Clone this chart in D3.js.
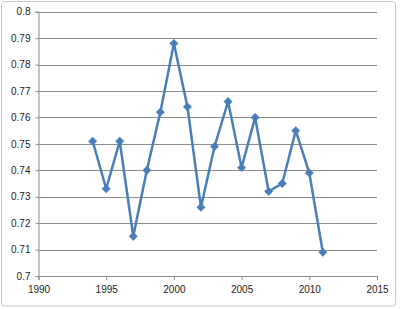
<!DOCTYPE html>
<html lang="en">
<head>
<meta charset="utf-8">
<script src="https://cdn.jsdelivr.net/npm/d3@7"></script>
<style>
    body { margin: 0; background: #fff; }
    svg { display: block; }
    .tick text { font-family: "Liberation Sans", Arial, sans-serif; font-size: 10px; fill: #222; }
</style>
</head>
<body>
<div id="container"></div>
<script>
    // values
    var years = [1994, 1995, 1996, 1997, 1998, 1999, 2000, 2001, 2002,
                 2003, 2004, 2005, 2006, 2007, 2008, 2009, 2010, 2011];
    var values = [0.751, 0.733, 0.751, 0.715, 0.740, 0.762, 0.788, 0.764, 0.726,
                  0.749, 0.766, 0.741, 0.760, 0.732, 0.735, 0.755, 0.739, 0.709];
    var xTicks = [1990, 1995, 2000, 2005, 2010, 2015];
    var yTicks = [0.7, 0.71, 0.72, 0.73, 0.74, 0.75, 0.76, 0.77, 0.78, 0.79, 0.8];

    var width = 400, height = 309;
    var plotLeft = 38.5, plotRight = 377, plotTop = 11.7, plotBottom = 276;

    var svg = d3.select("#container").append("svg")
        .attr("width", width)
        .attr("height", height);

    // outer chart border
    svg.append("rect")
        .attr("x", 1.5).attr("y", 1.5)
        .attr("width", 394).attr("height", 304.5)
        .attr("rx", 3)
        .style("fill", "white")
        .style("stroke", "#c8c8c8")
        .style("stroke-width", 1);

    var x = d3.scaleLinear().domain([1990, 2015]).range([plotLeft, plotRight]);
    var y = d3.scaleLinear().domain([0.7, 0.8]).range([plotBottom, plotTop]);

    // gridlines
    svg.append("g")
        .selectAll("line")
        .data(yTicks.slice(1))
        .enter().append("line")
        .attr("x1", plotLeft).attr("x2", plotRight)
        .attr("y1", function(d) { return Math.round(y(d)) + 0.5; })
        .attr("y2", function(d) { return Math.round(y(d)) + 0.5; })
        .style("stroke", "#8c8c8c")
        .style("stroke-width", 1);

    // y axis
    var yAxis = svg.append("g")
        .attr("transform", "translate(" + plotLeft + ",0)")
        .call(d3.axisLeft(y).tickValues(yTicks).tickSize(3).tickPadding(5)
            .tickFormat(function(d) { return String(+d.toFixed(2)); }));
    yAxis.selectAll("line, path").style("stroke", "#8c8c8c");

    // x axis
    var xAxis = svg.append("g")
        .attr("transform", "translate(0," + plotBottom + ")")
        .call(d3.axisBottom(x).tickValues(xTicks).tickSize(4).tickPadding(6)
            .tickFormat(d3.format("d")));
    xAxis.selectAll("line, path").style("stroke", "#8c8c8c");

    var data = years.map(function(d, i) { return { year: d, value: values[i] }; });

    var line = d3.line()
        .x(function(d) { return x(d.year); })
        .y(function(d) { return y(d.value); });

    svg.append("path")
        .datum(data)
        .attr("d", line)
        .style("fill", "none")
        .style("stroke", "#4a7ebb")
        .style("stroke-width", 2.5)
        .style("stroke-linejoin", "round");

    // diamond markers
    svg.append("g")
        .selectAll("path")
        .data(data)
        .enter().append("path")
        .attr("transform", function(d) { return "translate(" + x(d.year) + "," + y(d.value) + ")"; })
        .attr("d", "M0,-4.2L4.2,0L0,4.2L-4.2,0Z")
        .style("fill", "#4a7ebb")
        .style("stroke", "#4a7ebb")
        .style("stroke-width", 0.5);
</script>
</body>
</html>
